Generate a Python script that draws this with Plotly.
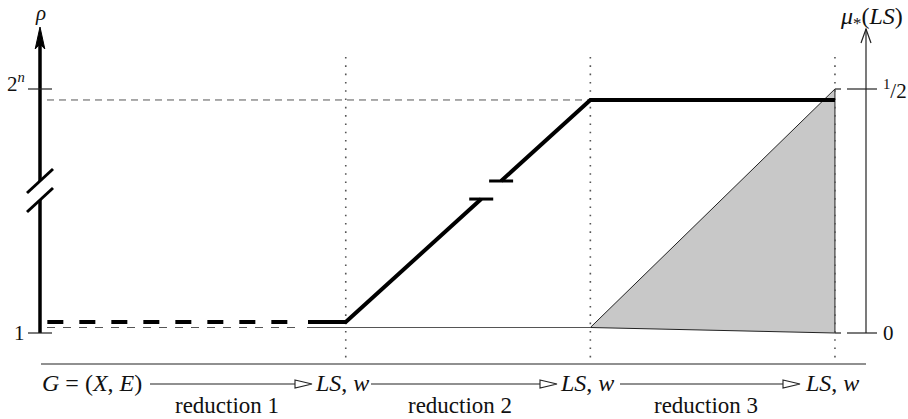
import plotly.graph_objects as go

W, H = 908, 419
# diagram coordinate system: x in "stage" units, y as normalised level
X0_PX, UX = 40.0, 244.6
Y0_PX, UY = 333.0, 244.0


def X(px):
    return (px - X0_PX) / UX


def Y(py):
    return (Y0_PX - py) / UY


# ---------------- data ----------------
stage_x = [0.0, 1.25, 2.25, 3.25]
stage_names = ["<i>G</i> = (<i>X</i>, <i>E</i>)", "<i>LS</i>, <i>w</i>", "<i>LS</i>, <i>w</i>", "<i>LS</i>, <i>w</i>"]
reduction_labels = ["reduction 1", "reduction 2", "reduction 3"]
rho_tick_vals = [0.0, 1.0]
rho_tick_text = ["1", "2<sup><i>n</i></sup>"]
mu_tick_vals = [0.0, 1.0]
mu_tick_text = ["0", "<sup>1</sup>/2"]
rho_x = [0.03, 1.25, 2.25, 3.25]
rho_y = [0.045, 0.045, 0.955, 0.955]
rho_break_y = [0.549, 0.623]
base_level = 0.0225
mu_x = [2.25, 3.25, 3.25]
mu_y = [0.0225, 1.0, 0.0]

DARK = "#222222"
GREY = "#555555"
FONT = "Liberation Serif, Times New Roman, serif"

fig = go.Figure()
shapes = []
ann = []


def seg(x0, y0, x1, y1, color=DARK, width=1.0, dash="solid"):
    shapes.append(dict(type="line", xref="x", yref="y", x0=x0, y0=y0, x1=x1, y1=y1,
                       line=dict(color=color, width=width, dash=dash), layer="above"))


def path(pts, close=False, line=DARK, width=1.0, fill=None):
    d = "M " + " L ".join(f"{a},{b}" for a, b in pts) + (" Z" if close else "")
    shapes.append(dict(type="path", xref="x", yref="y", path=d,
                       line=dict(color=line, width=width),
                       fillcolor=fill if fill else "rgba(0,0,0,0)", layer="above"))


# ---- mu triangle (grey area)
fig.add_trace(go.Scatter(x=mu_x + [mu_x[0]], y=mu_y + [mu_y[0]], mode="lines",
                         fill="toself", fillcolor="#c8c8c8",
                         line=dict(color=DARK, width=1), hoverinfo="skip", showlegend=False))

# ---- thin base line at level ~1
fig.add_trace(go.Scatter(x=[X(47), X(300)], y=[base_level, base_level], mode="lines",
                         line=dict(color=GREY, width=1, dash="8px,8px"), showlegend=False))
fig.add_trace(go.Scatter(x=[X(307), stage_x[2]], y=[base_level, base_level], mode="lines",
                         line=dict(color=GREY, width=1.2), showlegend=False))

# ---- dashed guide at top level
fig.add_trace(go.Scatter(x=[X(47), stage_x[2]], y=[rho_y[2], rho_y[2]], mode="lines",
                         line=dict(color=GREY, width=1, dash="7px,5px"), showlegend=False))

# ---- vertical dotted stage separators
for sx in stage_x[1:]:
    fig.add_trace(go.Scatter(x=[sx, sx], y=[Y(57), Y(362)], mode="lines",
                             line=dict(color=GREY, width=1.6, dash="1.6px,6.7px"), showlegend=False))

# ---- thick rho curve
fig.add_trace(go.Scatter(x=[rho_x[0], X(290)], y=[rho_y[0], rho_y[1]], mode="lines",
                         line=dict(color="black", width=4, dash="16px,16px"), showlegend=False))
slope = (rho_x[2] - rho_x[1]) / (rho_y[2] - rho_y[1])
bx = [rho_x[1] + (b - rho_y[1]) * slope for b in rho_break_y]
fig.add_trace(go.Scatter(x=[X(308), rho_x[1], bx[0]], y=[rho_y[1], rho_y[1], rho_break_y[0]], mode="lines",
                         line=dict(color="black", width=4), showlegend=False))
fig.add_trace(go.Scatter(x=[bx[1], rho_x[2], rho_x[3]], y=[rho_break_y[1], rho_y[2], rho_y[3]], mode="lines",
                         line=dict(color="black", width=4), showlegend=False))
hw = 12 / UX
for b, xb in zip(rho_break_y, bx):
    seg(xb - hw, b, xb + hw, b, color="black", width=3)

# ---- left axis (rho)
lx = stage_x[0]
seg(lx, Y(333), lx, Y(200), color="black", width=3.5)
seg(lx, Y(181), lx, Y(44), color="black", width=3.5)
path([(lx, Y(27)), (X(35.2), Y(49)), (lx, Y(44)), (X(44.8), Y(49))], close=True,
     line="black", width=1, fill="black")
seg(X(27), Y(193), X(53), Y(169), color="black", width=3)
seg(X(27), Y(212), X(53), Y(188), color="black", width=3)
for v, t in zip(rho_tick_vals, rho_tick_text):
    yy = v if v == 0 else Y(89)
    seg(X(28), yy, X(52), yy, color=DARK, width=1.2)
    ann.append(dict(x=X(27), y=yy + (Y(82) - Y(89) if v else 0), text=t, xanchor="right", yanchor="middle",
                    font=dict(size=21)))
ann.append(dict(x=lx, y=Y(13), text="<i>ρ</i>", xanchor="center", yanchor="middle", font=dict(size=21)))

# ---- right axis (mu)
rx = X(866)
seg(rx, Y(333), rx, Y(29), color=DARK, width=1.2)
path([(X(861), Y(43)), (rx, Y(29)), (X(871), Y(43))], line=DARK, width=1.2)
for v, t in zip(mu_tick_vals, mu_tick_text):
    yy = Y(333) if v == 0 else Y(89)
    seg(X(847), yy, X(877), yy, color=DARK, width=1.2)
    seg(stage_x[3], yy, X(841), yy, color=DARK, width=1.2)
    ann.append(dict(x=X(881), y=yy, text=t, xanchor="left", yanchor="middle", font=dict(size=21)))
ann.append(dict(x=X(871), y=Y(18), text="<i>μ</i><sub>*</sub>(<i>LS</i>)", xanchor="center",
                yanchor="middle", font=dict(size=24)))

# ---- bottom reduction row
seg(X(41), Y(364), X(866), Y(364), color=DARK, width=1.2)
row_y = Y(384)
name_left = [40, 313, 558, 803]
arrow_x = [(150, 295), (371, 540), (620, 783)]
for i, nm in enumerate(stage_names):
    ann.append(dict(x=X(name_left[i]), y=Y(383), text=nm, xanchor="left", yanchor="middle",
                    font=dict(size=24)))
for (a, b), lab in zip(arrow_x, reduction_labels):
    seg(X(a), row_y, X(b), row_y, color=DARK, width=1.1)
    path([(X(b), row_y + 4 / UY), (X(b + 17), row_y), (X(b), row_y - 4 / UY)], close=True,
         line=DARK, width=1.1, fill="white")
    ann.append(dict(x=X((a + b + 17) / 2 - 4), y=Y(405), text=lab, xanchor="center", yanchor="middle",
                    font=dict(size=23)))

for a in ann:
    a.update(xref="x", yref="y", showarrow=False)
    a["font"].update(family=FONT, color="#111111")

fig.update_layout(
    width=W, height=H, margin=dict(l=0, r=0, t=0, b=0),
    paper_bgcolor="white", plot_bgcolor="white",
    font=dict(family=FONT),
    xaxis=dict(range=[X(0), X(W)], visible=False, fixedrange=True),
    yaxis=dict(range=[Y(H), Y(0)], visible=False, fixedrange=True),
    shapes=shapes, annotations=ann, showlegend=False,
)

fig.write_html("out.html", post_script="document.body.style.margin='0px';document.body.style.overflow='hidden';",
               config={"displayModeBar": False})
